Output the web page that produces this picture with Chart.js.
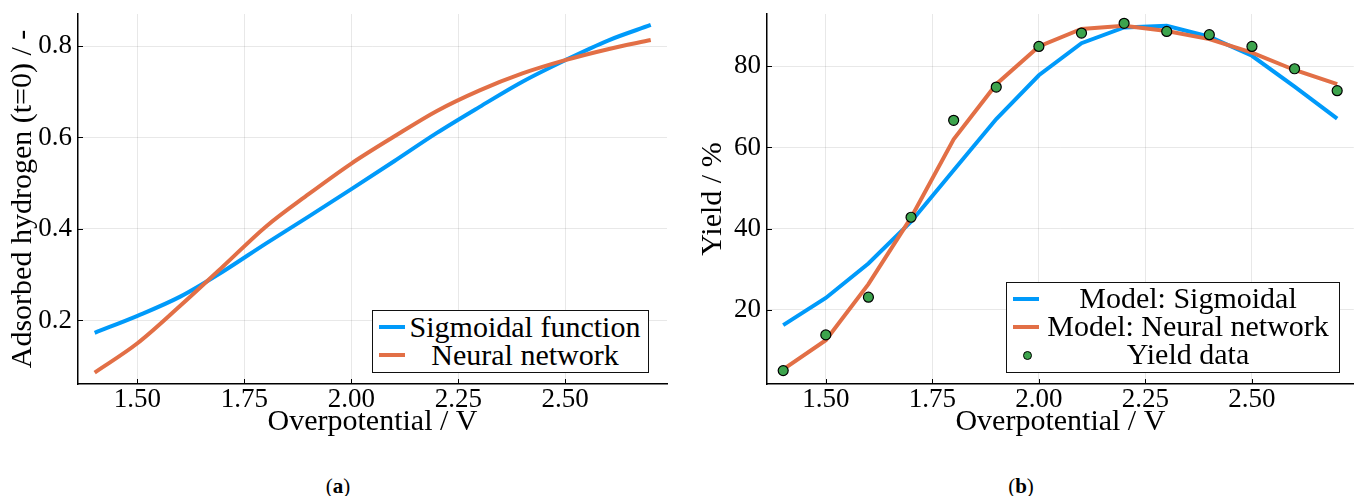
<!DOCTYPE html>
<html>
<head>
<meta charset="utf-8">
<title>Overpotential fits</title>
<script src="https://cdn.jsdelivr.net/npm/chart.js@4.4.1/dist/chart.umd.min.js"></script>
<style>
  body { margin: 0; background: #fff; font-family: "Liberation Serif", serif; color: #000; }
  #page { position: relative; width: 1360px; height: 496px; overflow: hidden; }
  canvas { position: absolute; top: 0; }
  #chart-a { left: 0; }
  #chart-b { left: 680px; }
  .legend { position: absolute; background: #fff; border: 1.5px solid #111; box-sizing: border-box; }
  .legend-label { position: absolute; font-family: "Liberation Serif", serif; font-size: 30px; line-height: 28px; white-space: nowrap; transform: translateX(-50%); }
  .swatch { position: absolute; height: 4px; width: 26px; }
  .dot { position: absolute; width: 9px; height: 9px; border-radius: 50%; border: 1px solid #000; box-sizing: border-box; }
  .caption { position: absolute; top: 474px; font-family: "Liberation Serif", serif; font-size: 21px; line-height: 24px; transform: translateX(-50%); }
</style>
</head>
<body>
<div id="page">
  <canvas id="chart-a" width="680" height="460"></canvas>
  <canvas id="chart-b" width="680" height="460"></canvas>
  <div id="legend-a" class="legend" style="left:372px; top:310px; width:277px; height:63px;"></div>
  <div id="legend-b" class="legend" style="left:1006px; top:282px; width:334px; height:91px;"></div>
  <div class="caption" style="left:338px;">(<b>a</b>)</div>
  <div class="caption" style="left:1021px;">(<b>b</b>)</div>
</div>
<script>
const overpotential = [1.4, 1.5, 1.6, 1.7, 1.8, 1.9, 2.0, 2.1, 2.2, 2.3, 2.4, 2.5, 2.6, 2.7];

const adsorbedSigmoid = [0.173, 0.210, 0.252, 0.307, 0.368, 0.427, 0.487, 0.548, 0.610, 0.667, 0.722, 0.769, 0.812, 0.846];
const adsorbedNeural = [0.086, 0.150, 0.232, 0.318, 0.405, 0.476, 0.543, 0.602, 0.658, 0.703, 0.740, 0.769, 0.793, 0.813];

const yieldSigmoid = [16.2, 22.9, 31.4, 41.7, 54.4, 67.0, 77.8, 85.7, 89.6, 90.0, 87.3, 82.6, 75.0, 67.1];
const yieldNeural = [5.3, 12.5, 26.3, 42.7, 62.0, 75.6, 84.9, 89.2, 90.0, 88.7, 86.7, 83.4, 79.1, 75.6];
const yieldData = [5.0, 13.8, 23.1, 42.8, 66.7, 74.9, 84.9, 88.2, 90.6, 88.6, 87.8, 84.9, 79.4, 74.0];

const xTickValues = [1.5, 1.75, 2.0, 2.25, 2.5];
const adsorbedTickValues = [0.2, 0.4, 0.6, 0.8];
const yieldTickValues = [20, 40, 60, 80];

const namesA = ["Sigmoidal function", "Neural network"];
const namesB = ["Model: Sigmoidal", "Model: Neural network", "Yield data"];

const BLUE = "#009AFA";
const ORANGE = "#E26F46";
const GREEN = "#3DA44D";
const FONT = '"Liberation Serif", serif';

Chart.defaults.font.family = FONT;
Chart.defaults.color = "#000";

function pairs(values) {
  return overpotential.map((x, i) => ({ x, y: values[i] }));
}

// Plots.jl style: short tick marks pointing into the plot area
const innerTicks = {
  id: "innerTicks",
  beforeDatasetsDraw(chart) {
    const { ctx, chartArea, scales } = chart;
    ctx.save();
    ctx.strokeStyle = "#000";
    ctx.lineWidth = 1;
    ctx.beginPath();
    scales.x.ticks.forEach((tick) => {
      const px = Math.round(scales.x.getPixelForValue(tick.value)) + 0.5;
      ctx.moveTo(px, chartArea.bottom);
      ctx.lineTo(px, chartArea.bottom - 5);
    });
    scales.y.ticks.forEach((tick) => {
      const py = Math.round(scales.y.getPixelForValue(tick.value)) + 0.5;
      ctx.moveTo(chartArea.left, py);
      ctx.lineTo(chartArea.left + 5, py);
    });
    ctx.stroke();
    ctx.restore();
  },
};

function chartOptions({ xMin, xMax, yMin, yMax, yTicks, yFormat, yTitle, yWidth, yTitlePad, padRight }) {
  return {
    responsive: false,
    animation: false,
    layout: { padding: { left: 0, right: padRight, top: 14, bottom: 0 } },
    plugins: { legend: { display: false }, tooltip: { enabled: false } },
    scales: {
      x: {
        type: "linear",
        min: xMin,
        max: xMax,
        afterBuildTicks: (scale) => { scale.ticks = xTickValues.map((value) => ({ value })); },
        afterFit: (scale) => { scale.height = 76; scale.paddingLeft = 0; scale.paddingRight = 0; },
        ticks: {
          padding: 0,
          maxRotation: 0,
          font: { family: FONT, size: 27, lineHeight: 1.2 },
          callback: (value) => Number(value).toFixed(2),
        },
        grid: { color: "rgba(0,0,0,0.09)", lineWidth: 1, drawTicks: false },
        border: { display: true, color: "#000", width: 1.5 },
        title: { display: true, text: "Overpotential / V", font: { family: FONT, size: 30, lineHeight: 1.2 }, padding: { top: 0, bottom: 20 } },
      },
      y: {
        type: "linear",
        min: yMin,
        max: yMax,
        afterBuildTicks: (scale) => { scale.ticks = yTicks.map((value) => ({ value })); },
        afterFit: (scale) => { scale.width = yWidth; scale.paddingTop = 0; scale.paddingBottom = 0; },
        ticks: {
          padding: 6,
          font: { family: FONT, size: 27, lineHeight: 1.2 },
          callback: yFormat,
        },
        grid: { color: "rgba(0,0,0,0.09)", lineWidth: 1, drawTicks: false },
        border: { display: true, color: "#000", width: 1.5 },
        title: { display: true, text: yTitle, font: { family: FONT, size: 30, lineHeight: 1.2 }, padding: { top: yTitlePad, bottom: 0 } },
      },
    },
  };
}

function lineSet(label, values, color, order, smooth) {
  return {
    label,
    data: pairs(values),
    borderColor: color,
    backgroundColor: color,
    borderWidth: 4,
    pointRadius: 0,
    cubicInterpolationMode: smooth ? "monotone" : "default",
    tension: 0,
    fill: false,
    order,
  };
}

new Chart(document.getElementById("chart-a"), {
  type: "line",
  data: {
    datasets: [
      lineSet(namesA[0], adsorbedSigmoid, BLUE, 2, true),
      lineSet(namesA[1], adsorbedNeural, ORANGE, 1, true),
    ],
  },
  options: chartOptions({
    xMin: 1.361, xMax: 2.738, yMin: 0.061, yMax: 0.870,
    yTicks: adsorbedTickValues,
    yFormat: (value) => Number(value).toFixed(1),
    yTitle: "Adsorbed hydrogen (t=0) / -",
    yWidth: 78, yTitlePad: 5, padRight: 13,
  }),
  plugins: [innerTicks],
});

new Chart(document.getElementById("chart-b"), {
  type: "line",
  data: {
    datasets: [
      lineSet(namesB[0], yieldSigmoid, BLUE, 3, false),
      lineSet(namesB[1], yieldNeural, ORANGE, 2, false),
      {
        label: namesB[2],
        data: pairs(yieldData),
        showLine: false,
        pointRadius: 5,
        pointBackgroundColor: GREEN,
        pointBorderColor: "#000",
        pointBorderWidth: 1.2,
        order: 1,
      },
    ],
  },
  options: chartOptions({
    xMin: 1.362, xMax: 2.739, yMin: 1.7, yMax: 92.9,
    yTicks: yieldTickValues,
    yFormat: (value) => String(value),
    yTitle: "Yield / %",
    yWidth: 87, yTitlePad: 15, padRight: 2,
  }),
  plugins: [innerTicks],
});

function buildLegend(id, names, colors, rowTops, swatchTops, textCenter) {
  const box = document.getElementById(id);
  names.forEach((name, i) => {
    if (colors[i] === GREEN) {
      const dot = document.createElement("div");
      dot.className = "dot";
      dot.style.left = "16px";
      dot.style.top = `${swatchTops[i] - 4.5}px`;
      dot.style.background = GREEN;
      box.appendChild(dot);
    } else {
      const swatch = document.createElement("div");
      swatch.className = "swatch";
      swatch.style.left = "6px";
      swatch.style.top = `${swatchTops[i] - 2}px`;
      swatch.style.background = colors[i];
      box.appendChild(swatch);
    }
    const label = document.createElement("div");
    label.className = "legend-label";
    label.textContent = name;
    label.style.left = `${textCenter}px`;
    label.style.top = `${rowTops[i]}px`;
    box.appendChild(label);
  });
}

buildLegend("legend-a", namesA, [BLUE, ORANGE], [2, 30], [16, 44], 152);
buildLegend("legend-b", namesB, [BLUE, ORANGE, GREEN], [1, 29, 57], [16, 44, 72], 181);
</script>
</body>
</html>
